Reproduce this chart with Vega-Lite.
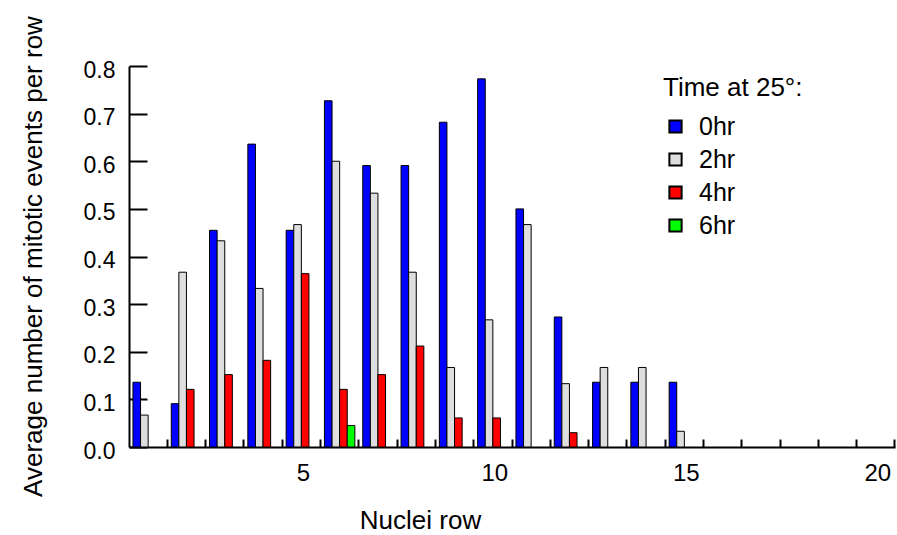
{
  "$schema": "https://vega.github.io/schema/vega-lite/v6.json",
  "autosize": "none",
  "padding": {"left": 129, "top": 66, "right": 2, "bottom": 88},
  "width": 766,
  "height": 381,
  "background": "white",
  "config": {
    "view": {"stroke": null},
    "font": "Liberation Sans",
    "axis": {"grid": false, "domainColor": "black", "domainWidth": 2, "tickColor": "black", "tickWidth": 2, "labelColor": "black", "titleColor": "black", "titleFontWeight": "normal", "labelFont": "Liberation Sans", "titleFont": "Liberation Sans"}
  },
  "data": {
    "values": [
      {"row": 1, "time": "0hr", "value": 0.136},
      {"row": 1, "time": "2hr", "value": 0.067},
      {"row": 2, "time": "0hr", "value": 0.091},
      {"row": 2, "time": "2hr", "value": 0.367},
      {"row": 2, "time": "4hr", "value": 0.121},
      {"row": 3, "time": "0hr", "value": 0.455},
      {"row": 3, "time": "2hr", "value": 0.433},
      {"row": 3, "time": "4hr", "value": 0.152},
      {"row": 4, "time": "0hr", "value": 0.636},
      {"row": 4, "time": "2hr", "value": 0.333},
      {"row": 4, "time": "4hr", "value": 0.182},
      {"row": 5, "time": "0hr", "value": 0.455},
      {"row": 5, "time": "2hr", "value": 0.467},
      {"row": 5, "time": "4hr", "value": 0.364},
      {"row": 6, "time": "0hr", "value": 0.727},
      {"row": 6, "time": "2hr", "value": 0.6},
      {"row": 6, "time": "4hr", "value": 0.121},
      {"row": 6, "time": "6hr", "value": 0.045},
      {"row": 7, "time": "0hr", "value": 0.591},
      {"row": 7, "time": "2hr", "value": 0.533},
      {"row": 7, "time": "4hr", "value": 0.152},
      {"row": 8, "time": "0hr", "value": 0.591},
      {"row": 8, "time": "2hr", "value": 0.367},
      {"row": 8, "time": "4hr", "value": 0.212},
      {"row": 9, "time": "0hr", "value": 0.682},
      {"row": 9, "time": "2hr", "value": 0.167},
      {"row": 9, "time": "4hr", "value": 0.061},
      {"row": 10, "time": "0hr", "value": 0.773},
      {"row": 10, "time": "2hr", "value": 0.267},
      {"row": 10, "time": "4hr", "value": 0.061},
      {"row": 11, "time": "0hr", "value": 0.5},
      {"row": 11, "time": "2hr", "value": 0.467},
      {"row": 12, "time": "0hr", "value": 0.273},
      {"row": 12, "time": "2hr", "value": 0.133},
      {"row": 12, "time": "4hr", "value": 0.03},
      {"row": 13, "time": "0hr", "value": 0.136},
      {"row": 13, "time": "2hr", "value": 0.167},
      {"row": 14, "time": "0hr", "value": 0.136},
      {"row": 14, "time": "2hr", "value": 0.167},
      {"row": 15, "time": "0hr", "value": 0.136},
      {"row": 15, "time": "2hr", "value": 0.033}
    ]
  },
  "mark": {"type": "bar", "stroke": "black", "strokeWidth": 1},
  "encoding": {
    "x": {
      "field": "row",
      "type": "ordinal",
      "scale": {"domain": [1,2,3,4,5,6,7,8,9,10,11,12,13,14,15,16,17,18,19,20], "paddingInner": 0, "paddingOuter": 0},
      "axis": {
        "title": "Nuclei row",
        "titleFontSize": 26,
        "titleX": 291,
        "titleY": 81,
        "titleBaseline": "alphabetic",
        "titleAlign": "center",
        "titleAnchor": null,
        "labelAngle": 0,
        "labelFontSize": 24,
        "labelExpr": "datum.value % 5 === 0 ? datum.label : ''",
        "labelOverlap": false,
        "bandPosition": 1,
        "labelOffset": 2,
        "tickSize": -8,
        "labelPadding": 22,
        "labelBaseline": "top"
      }
    },
    "xOffset": {
      "field": "time",
      "type": "nominal",
      "scale": {"domain": ["0hr", "2hr", "4hr", "6hr"], "paddingInner": 0, "paddingOuter": 0.52}
    },
    "y": {
      "field": "value",
      "type": "quantitative",
      "scale": {"domain": [0, 0.8], "nice": false},
      "axis": {
        "title": "Average number of mitotic events per row",
        "titleFontSize": 26,
        "titleX": -88,
        "titleY": 190,
        "titleBaseline": "alphabetic",
        "titleAlign": "center",
        "titleAngle": -90,
        "titleAnchor": null,
        "values": [0, 0.1, 0.2, 0.3, 0.4, 0.5, 0.6, 0.7, 0.8],
        "format": ".1f",
        "labelFontSize": 23,
        "tickSize": -18,
        "labelPadding": 32,
        "labelOffset": 4
      }
    },
    "color": {
      "field": "time",
      "type": "nominal",
      "scale": {"domain": ["0hr", "2hr", "4hr", "6hr"], "range": ["#0000ff", "#dedede", "#ff0000", "#00ff00"]},
      "legend": {
        "title": "Time at 25°:",
        "orient": "none",
        "legendX": 534,
        "legendY": 9,
        "titleFontSize": 26,
        "titleFontWeight": "normal",
        "titleColor": "black",
        "titlePadding": 13,
        "labelFontSize": 25,
        "labelColor": "black",
        "symbolType": "square",
        "symbolSize": 150,
        "symbolStrokeColor": "black",
        "symbolStrokeWidth": 2,
        "symbolOpacity": 1,
        "symbolOffset": 0,
        "rowPadding": 7,
        "labelOffset": 11
      }
    }
  }
}
